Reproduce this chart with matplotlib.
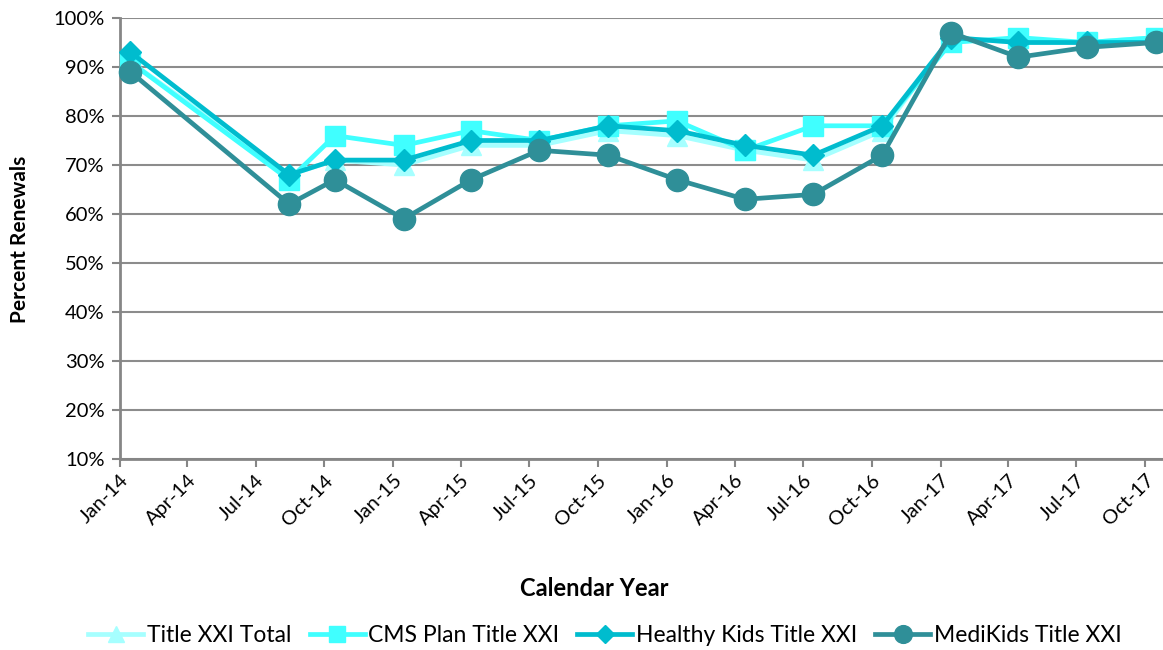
import matplotlib
matplotlib.use("Agg")
import matplotlib.pyplot as plt
import numpy as np
import datetime as dt

dates = ["2014-01-15", "2014-08-15", "2014-10-15", "2015-01-15", "2015-04-15",
         "2015-07-15", "2015-10-15", "2016-01-15", "2016-04-15", "2016-07-15",
         "2016-10-15", "2017-01-15", "2017-04-15", "2017-07-15", "2017-10-15"]
title_xxi_total = [91, 68, 71, 70, 74, 74, 77, 76, 73, 71, 77, 96, 95, 95, 96]
cms_plan = [91, 67, 76, 74, 77, 75, 78, 79, 73, 78, 78, 95, 96, 95, 96]
healthy_kids = [93, 68, 71, 71, 75, 75, 78, 77, 74, 72, 78, 96, 95, 95, 95]
medikids = [89, 62, 67, 59, 67, 73, 72, 67, 63, 64, 72, 97, 92, 94, 95]

series_names = ["Title XXI Total", "CMS Plan Title XXI", "Healthy Kids Title XXI", "MediKids Title XXI"]
tick_labels = ["Jan-14", "Apr-14", "Jul-14", "Oct-14", "Jan-15", "Apr-15", "Jul-15", "Oct-15",
               "Jan-16", "Apr-16", "Jul-16", "Oct-16", "Jan-17", "Apr-17", "Jul-17", "Oct-17"]

plt.rcParams['font.family'] = ['Lato', 'DejaVu Sans']

x = [dt.datetime.strptime(d, "%Y-%m-%d") for d in dates]

fig = plt.figure(figsize=(11.63, 6.5), dpi=100)
ax = fig.add_axes([120/1163, 1-459/650, 1-120/1163, (459-18)/650])

styles = [
    dict(color="#A6FFFF", marker="^", ms=15),
    dict(color="#40FFFF", marker="s", ms=14),
    dict(color="#00BCCE", marker="D", ms=11),
    dict(color="#2F8F98", marker="o", ms=16),
]
for name, vals, st in zip(series_names, [title_xxi_total, cms_plan, healthy_kids, medikids], styles):
    ax.plot(x, vals, color=st["color"], lw=3.4, marker=st["marker"], ms=st["ms"],
            mec=st["color"], mfc=st["color"], label=name, clip_on=False, zorder=3)

ax.set_ylim(10, 100)
ax.set_yticks(np.arange(10, 101, 10))
ax.set_yticklabels([f"{v}%" for v in range(10, 101, 10)])
ax.yaxis.grid(True, color="#8C8C8C", lw=1.5)
ax.set_axisbelow(True)

ticks = [dt.datetime(2014 + (i * 3) // 12, (i * 3) % 12 + 1, 1) for i in range(16)]
ax.set_xticks(ticks)
ax.set_xticklabels(tick_labels, rotation=45, ha="right", rotation_mode="anchor")
ax.set_xlim(dt.datetime(2014, 1, 1), dt.datetime(2017, 10, 25))

for s in ["top", "right"]:
    ax.spines[s].set_visible(False)
for s in ["left", "bottom"]:
    ax.spines[s].set_color("#868686")
    ax.spines[s].set_linewidth(2)
ax.tick_params(axis="both", colors="#868686", labelcolor="black", labelsize=14.5, length=6, width=1.5)
ax.tick_params(axis="x", pad=3)
ax.tick_params(axis="y", pad=5)

fig.text(20/1163, 1-239/650, "Percent Renewals", fontsize=15, fontweight="bold",
         rotation=90, ha="center", va="center")
fig.text(594/1163, 1-588/650, "Calendar Year", fontsize=17, fontweight="bold", ha="center", va="center")

leg = fig.legend(loc="center", bbox_to_anchor=(605/1163, 1-636/650), ncol=4, frameon=False,
                 fontsize=16.5, handlelength=2.4, handletextpad=0.15, columnspacing=0.8, markerscale=0.8)

fig.savefig("out.png", dpi=100)
